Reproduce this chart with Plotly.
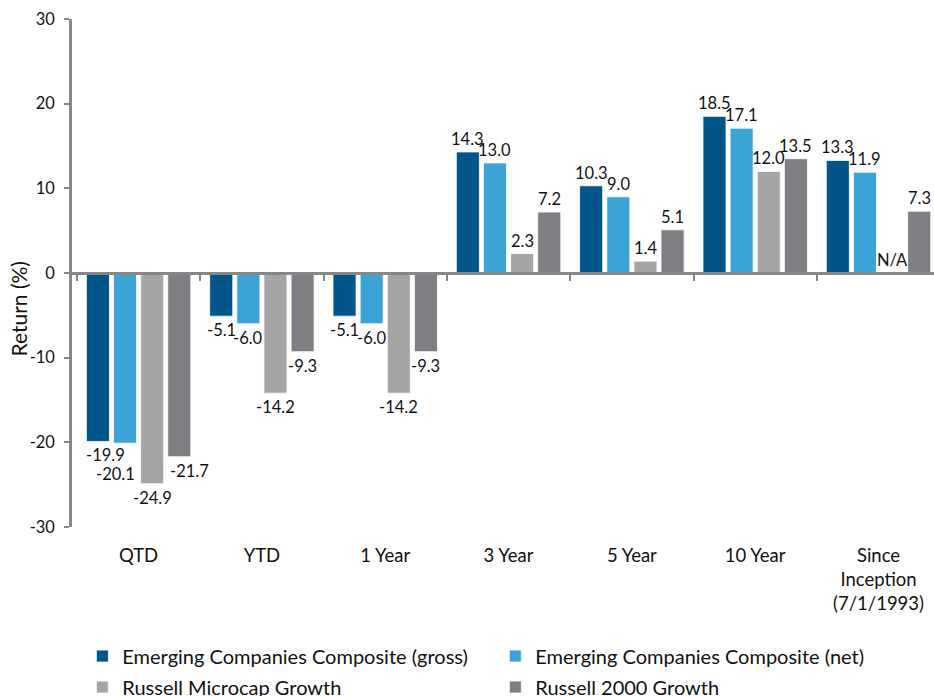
import plotly.graph_objects as go

categories = ["QTD", "YTD", "1 Year", "3 Year", "5 Year", "10 Year", "Since<br>Inception<br>(7/1/1993)"]
series_names = [
    "Emerging Companies Composite (gross)",
    "Emerging Companies Composite (net)",
    "Russell Microcap Growth",
    "Russell 2000 Growth",
]
gross = [-19.9, -5.1, -5.1, 14.3, 10.3, 18.5, 13.3]
net = [-20.1, -6.0, -6.0, 13.0, 9.0, 17.1, 11.9]
microcap = [-24.9, -14.2, -14.2, 2.3, 1.4, 12.0, None]
r2000 = [-21.7, -9.3, -9.3, 7.2, 5.1, 13.5, 7.3]
y_ticks = [-30, -20, -10, 0, 10, 20, 30]
y_tick_labels = ["-30", "-20", "-10", "0", "10", "20", "30"]

colors = ["#02558A", "#3BA3D5", "#A5A5A5", "#7F7F83"]
legend_of_series = ["legend", "legend", "legend2", "legend2"]
FONT = "Lato"
BARGAP = 0.12

# label nudges (px) for the crowded QTD group: (dx, dy) keyed by (series, category)
nudges = {
    (0, 0): (8, 0),
    (1, 0): (-10, -17),
    (3, 0): (10, 0),
}

all_series = [gross, net, microcap, r2000]

fig = go.Figure()
for k, (name, vals) in enumerate(zip(series_names, all_series)):
    fig.add_trace(go.Bar(
        x=categories,
        y=[v if v is not None else 0 for v in vals],
        name=name,
        legend=legend_of_series[k],
        marker=dict(color=colors[k], line=dict(color="white", width=0.8)),
        textposition="none",
        hoverinfo="x+y+name",
    ))

# invisible trace carrying the category axis drawn at y = 0
fig.add_trace(go.Scatter(
    x=categories, y=[0] * len(categories), xaxis="x2", mode="markers",
    marker=dict(opacity=0), showlegend=False, hoverinfo="skip",
))

annotations = []
slot = (1 - BARGAP) / len(all_series)
for k, vals in enumerate(all_series):
    for i, v in enumerate(vals):
        xc = i - (1 - BARGAP) / 2 + (k + 0.5) * slot
        dx, dy = nudges.get((k, i), (0, 0))
        if v is None:
            txt, yv, anchor, ys = "N/A", 0, "bottom", 1
        else:
            txt = f"{v:.1f}"
            yv = v
            anchor = "bottom" if v >= 0 else "top"
            ys = 1 if v >= 0 else -2
        annotations.append(dict(
            x=xc, y=yv, xref="x", yref="y", text=txt, showarrow=False,
            yanchor=anchor, xanchor="center", xshift=dx, yshift=ys + dy,
            font=dict(family=FONT, size=16.5, color="#111111"),
        ))

# y-axis title
annotations.append(dict(
    text="Return (%)", textangle=-90, showarrow=False,
    xref="paper", x=0, xanchor="center", xshift=-53,
    yref="paper", y=0.43, yanchor="middle",
    font=dict(family=FONT, size=21, color="#111111"),
))

legend_common = dict(
    orientation="h", xanchor="left", yanchor="middle",
    entrywidth=368, entrywidthmode="pixels",
    font=dict(family=FONT, size=20, color="#111111"),
    bgcolor="rgba(0,0,0,0)",
)

fig.update_layout(
    width=934, height=696,
    margin=dict(l=72, r=0, t=19, b=169, autoexpand=False),
    paper_bgcolor="white", plot_bgcolor="white",
    barmode="group", bargap=BARGAP, bargroupgap=0.15,
    font=dict(family=FONT, size=16, color="#111111"),
    xaxis=dict(
        type="category", categoryorder="array", categoryarray=categories,
        range=[-0.54, 6.45], showline=False, showgrid=False, zeroline=False,
        ticks="outside", ticklen=12, tickcolor="rgba(0,0,0,0)",
        tickfont=dict(family=FONT, size=18.5, color="#111111"),
    ),
    xaxis2=dict(
        type="category", categoryorder="array", categoryarray=categories,
        overlaying="x", anchor="free", position=0.5,
        range=[-0.54, 6.45], showline=True, linecolor="#878787", linewidth=2.5,
        ticks="outside", tickson="boundaries", ticklen=6, tickwidth=2,
        tickcolor="#878787", showticklabels=False, showgrid=False, zeroline=False,
    ),
    yaxis=dict(
        range=[-30, 30], tickvals=y_ticks, ticktext=y_tick_labels,
        showgrid=False, zeroline=False,
        showline=True, linecolor="#878787", linewidth=2.5,
        ticks="outside", ticklen=5, tickwidth=2, tickcolor="#878787",
        ticklabelstandoff=6,
        tickfont=dict(family=FONT, size=16.5, color="#111111"),
    ),
    legend=dict(x=0.012, y=-0.254, **legend_common),
    legend2=dict(x=0.012, y=-0.315, **legend_common),
    annotations=annotations,
)

fig.write_html("out.html", config={"displayModeBar": False},
               post_script="document.body.style.margin='0';")
